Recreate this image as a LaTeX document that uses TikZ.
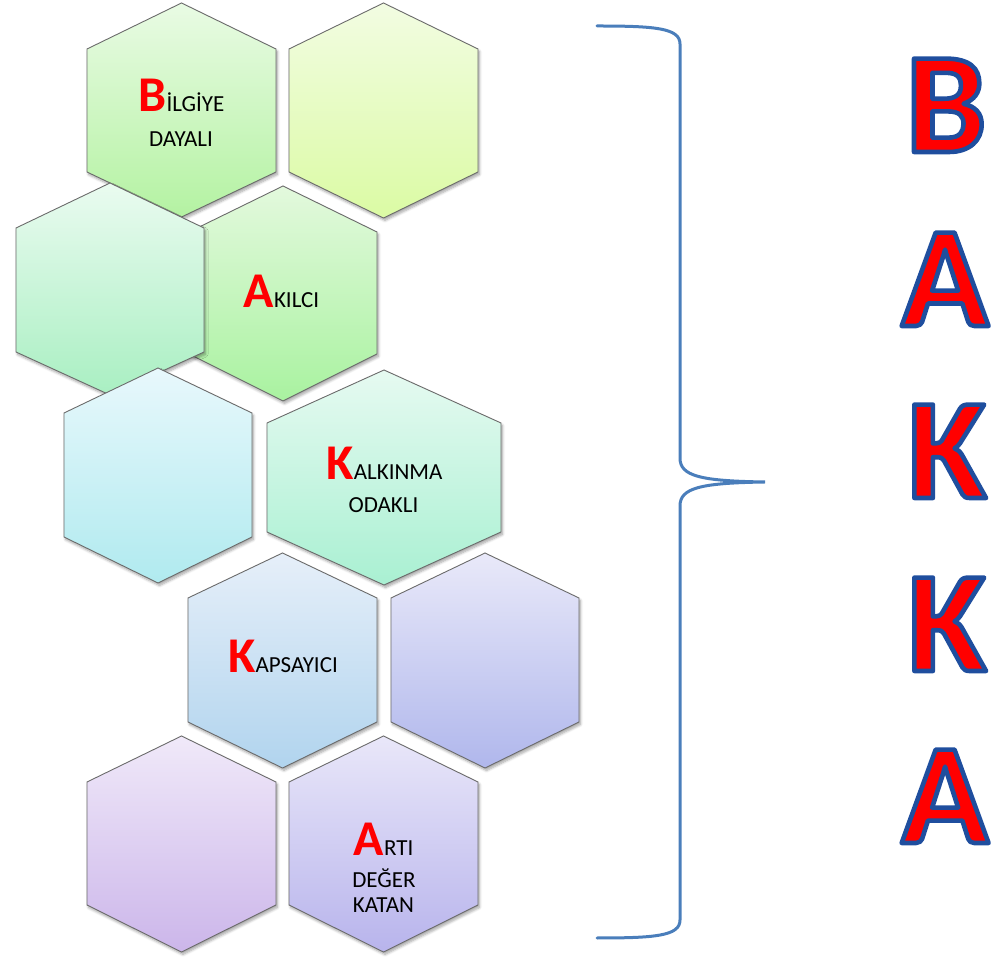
\documentclass[tikz,border=0pt]{standalone}
\usepackage{fontspec}
\setmainfont{Carlito}
\usetikzlibrary{shadows,shadows.blur}
\definecolor{edgegray}{HTML}{6B6B6B}
\definecolor{braceblue}{HTML}{4A7EBB}
\definecolor{tA}{HTML}{E9FBE4}\definecolor{bA}{HTML}{B4F2A2}
\definecolor{tB}{HTML}{F2FCE2}\definecolor{bB}{HTML}{DBFBA4}
\definecolor{tC}{HTML}{EAFBF0}\definecolor{bC}{HTML}{A9EFC2}
\definecolor{tD}{HTML}{E3F9DD}\definecolor{bD}{HTML}{A9F2A0}
\definecolor{tE}{HTML}{E8F8FC}\definecolor{bE}{HTML}{B0EAEF}
\definecolor{tF}{HTML}{E6FAF1}\definecolor{bF}{HTML}{A9F0D2}
\definecolor{tG}{HTML}{E6EFF9}\definecolor{bG}{HTML}{B1D4EE}
\definecolor{tH}{HTML}{E9E9F9}\definecolor{bH}{HTML}{B0B7EC}
\definecolor{tI}{HTML}{F0E9F9}\definecolor{bI}{HTML}{CCB6EA}
\definecolor{tJ}{HTML}{E9E7F9}\definecolor{bJ}{HTML}{B8B4EC}
\newcommand\hexcell[8]{%
  \path[hexst, top color=#7, bottom color=#8]
    (#1,956-#3) -- (#1+#2,956-#4) -- (#1+#2,956-#5) -- (#1,956-#6)
    -- (#1-#2,956-#5) -- (#1-#2,956-#4) -- cycle;}
\newcommand\bigred[1]{{\fontsize{50}{50}\selectfont\bfseries\color{red}#1}}
\newcommand\smtxt[1]{{\fontsize{23}{23}\selectfont #1}}
\newcommand\outlined[1]{%
  \special{pdf:literal direct 1 j 4.6 w 0.122 0.306 0.62 RG 2 Tr}#1%
  \special{pdf:literal direct 0 Tr}}
\newcommand\sideletter[4]{% name, x, baseline y, letter
  \node[bigl, text=red] (#1) at (#2,956-#3) {\outlined{#4}};}
\begin{document}
\begin{tikzpicture}[x=1pt,y=1pt,
  hexst/.style={draw=edgegray, line width=0.9pt, line join=miter,
    blur shadow={shadow xshift=1.5pt, shadow yshift=-2.5pt, shadow blur steps=6,
      shadow blur radius=2.5pt, shadow opacity=35}},
  lbl/.style={inner sep=0pt, anchor=base, text=black},
  bigl/.style={inner sep=0pt, anchor=base, font=\fontsize{144}{144}\selectfont\bfseries}]
\useasboundingbox (0,0) rectangle (996,956);
% hexagons
\hexcell{181.5}{94.5}{3}{49}{172}{217}{tA}{bA}
\hexcell{383.5}{94.5}{3}{49}{172}{218}{tB}{bB}
\hexcell{283}{94}{186}{232}{354}{401}{tD}{bD}
\hexcell{110}{94}{183}{228}{352}{395}{tC}{bC}
\hexcell{384}{117}{370}{423}{532}{585}{tF}{bF}
\hexcell{158}{94}{368}{413}{537}{583}{tE}{bE}
\hexcell{282.5}{94.5}{553}{598}{722}{768}{tG}{bG}
\hexcell{485}{94}{553}{598}{722}{768}{tH}{bH}
\hexcell{181.5}{94.5}{736}{782}{905}{952}{tI}{bI}
\hexcell{383.5}{94.5}{736}{782}{905}{952}{tJ}{bJ}
% labels
\node[lbl] (b1) at (181.5,956-112) {\bigred{B}\smtxt{İLGİYE}};
\node[lbl] (b2) at (181,956-147) {\smtxt{DAYALI}};
\node[lbl] (a1) at (281.5,956-308) {\bigred{A}\smtxt{KILCI}};
\node[lbl] (k1) at (384.5,956-480) {\bigred{K}\smtxt{ALKINMA}};
\node[lbl] (k2) at (383.5,956-513) {\smtxt{ODAKLI}};
\node[lbl] (p1) at (283,956-673) {\bigred{K}\smtxt{APSAYICI}};
\node[lbl] (r1) at (383.5,956-856) {\bigred{A}\smtxt{RTI}};
\node[lbl] (r2) at (384,956-888) {\smtxt{DEĞER}};
\node[lbl] (r3) at (383.5,956-912) {\smtxt{KATAN}};
% brace
\coordinate (brt) at (597,956-26);
\coordinate (brb) at (597,956-938);
\coordinate (tip) at (765,956-482);
\draw[braceblue, line width=3pt, line cap=round]
  (brt) .. controls (655,956-26) and (680,956-28) .. (680,956-44)
  -- (680,956-458) .. controls (680,956-476) and (700,956-481) .. (tip)
  .. controls (700,956-483) and (680,956-488) .. (680,956-506)
  -- (680,956-920) .. controls (680,956-936) and (655,956-938) .. (brb);
% side letters
\sideletter{L1}{946}{152}{B}
\sideletter{L2}{945}{326}{A}
\sideletter{L3}{947}{498}{K}
\sideletter{L4}{947}{671}{K}
\sideletter{L5}{945}{843}{A}
\end{tikzpicture}
\end{document}
